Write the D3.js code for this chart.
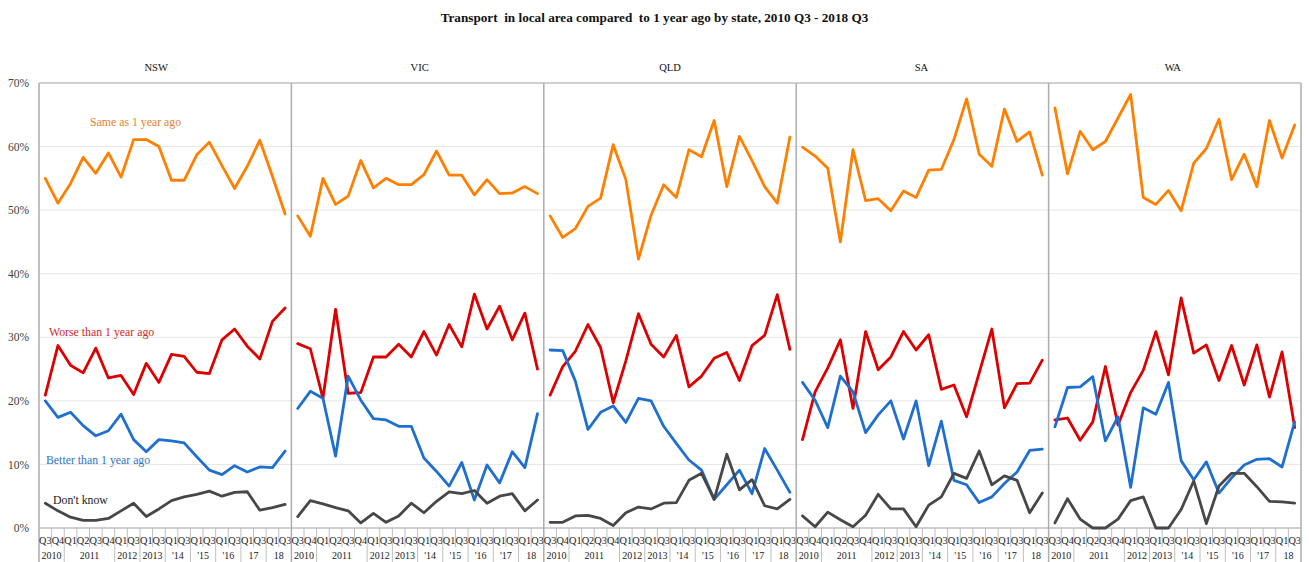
<!DOCTYPE html>
<html><head><meta charset="utf-8">
<script src="https://cdn.jsdelivr.net/npm/d3@7"></script>
<style>
body{margin:0;background:#fff}
svg{display:block}
text{font-family:"Liberation Serif","Times New Roman",serif}
</style>
</head><body>
<svg id="c" width="1309" height="562"></svg>
<script>
const title = "Transport  in local area compared  to 1 year ago by state, 2010 Q3 - 2018 Q3";
const states = ["NSW","VIC","QLD","SA","WA"];
const quarterLabels = ["Q3","Q4","Q1","Q2","Q3","Q4","Q1","Q3","Q1","Q3","Q1","Q3","Q1","Q3","Q1","Q3","Q1","Q3","Q1","Q3"];
const yearSpans = [2,4,2,2,2,2,2,2,2];
const yearLabelsNSW = ["2010","2011","2012","2013","'14","'15","'16","17","18"];
const yearLabelsOther = ["2010","2011","2012","2013","'14","'15","'16","'17","18"];
const yTicks = [0,10,20,30,40,50,60,70];
const seriesNames = ["Same as 1 year ago","Worse than 1 year ago","Better than 1 year ago","Don't know"];

// rows: NSW, VIC, QLD, SA, WA
const sameValues = [
  [55.0,51.1,54.2,58.3,55.8,59.0,55.2,61.1,61.1,60.0,54.7,54.7,58.7,60.7,57.0,53.4,56.9,61.0,55.3,49.4],
  [49.1,45.9,55.0,50.9,52.2,57.8,53.5,55.0,54.0,54.0,55.6,59.3,55.5,55.5,52.4,54.8,52.6,52.7,53.7,52.6],
  [49.1,45.7,47.1,50.6,51.9,60.3,54.8,42.3,49.2,54.0,52.0,59.5,58.4,64.1,53.7,61.6,57.8,53.7,51.1,61.5],
  [59.9,58.5,56.6,45.0,59.5,51.5,51.8,49.9,53.0,52.0,56.3,56.4,61.1,67.5,58.8,56.9,65.9,60.8,62.3,55.5],
  [66.1,55.7,62.4,59.5,60.8,64.5,68.2,52.0,50.9,53.1,49.9,57.4,59.7,64.3,54.8,58.8,53.7,64.1,58.2,63.4]
];
const worseValues = [
  [20.9,28.7,25.6,24.4,28.3,23.6,24.0,21.0,25.9,22.9,27.3,27.0,24.5,24.3,29.6,31.3,28.6,26.6,32.5,34.6],
  [29.0,28.2,20.4,34.4,21.2,21.3,26.9,26.9,28.9,26.9,30.9,27.2,32.0,28.5,36.8,31.3,34.9,29.6,33.8,25.0],
  [20.9,25.4,27.8,32.0,28.4,19.7,26.3,33.7,28.9,26.9,30.3,22.2,23.9,26.7,27.6,23.2,28.7,30.3,36.7,28.1],
  [13.9,21.4,25.2,29.6,18.8,30.9,24.9,26.9,30.9,28.0,30.4,21.8,22.5,17.5,24.4,31.3,18.9,22.7,22.8,26.4],
  [17.0,17.3,13.8,16.7,25.4,16.2,21.3,24.8,30.9,24.1,36.2,27.5,28.8,23.2,28.7,22.5,28.8,20.6,27.7,15.8]
];
const betterValues = [
  [20.0,17.4,18.2,16.1,14.5,15.3,17.9,13.9,12.0,13.9,13.7,13.4,11.2,9.1,8.4,9.8,8.8,9.6,9.5,12.1],
  [18.8,21.5,20.4,11.3,23.9,20.1,17.2,17.0,16.0,16.0,11.0,8.9,6.6,10.3,4.4,9.9,7.1,12.0,9.5,18.0],
  [28.0,27.9,23.1,15.5,18.2,19.2,16.6,20.4,20.0,16.0,13.3,10.7,9.1,4.5,6.8,9.1,5.4,12.5,9.1,5.6],
  [22.9,20.1,15.8,23.9,21.4,15.0,17.8,20.0,14.0,20.0,9.8,16.8,7.5,6.8,4.0,4.9,7.0,8.8,12.2,12.4],
  [15.9,22.1,22.2,23.8,13.7,17.5,6.4,18.9,17.9,22.9,10.6,7.6,10.4,5.5,7.9,9.9,10.8,10.9,9.6,16.7]
];
const dontKnowValues = [
  [3.9,2.7,1.7,1.2,1.2,1.5,2.7,3.9,1.8,3.0,4.3,4.9,5.3,5.8,5.0,5.6,5.7,2.8,3.2,3.7],
  [1.8,4.3,3.8,3.2,2.7,0.8,2.3,0.9,1.9,3.9,2.4,4.2,5.7,5.4,5.9,3.9,5.0,5.4,2.7,4.4],
  [0.9,0.9,1.9,2.0,1.5,0.4,2.4,3.3,3.0,3.9,4.0,7.5,8.6,4.5,11.6,6.0,7.6,3.5,3.0,4.5],
  [1.9,0.2,2.5,1.3,0.2,2.0,5.3,3.0,3.0,0.2,3.6,4.9,8.6,7.8,12.1,6.8,8.2,7.5,2.4,5.5],
  [0.8,4.6,1.4,0.0,0.0,1.4,4.3,4.9,0.0,0.0,2.9,7.4,0.7,6.6,8.6,8.6,6.5,4.2,4.1,3.9]
];

const seriesData = [sameValues, worseValues, betterValues, dontKnowValues];
const lineColors = ["#FF8000","#DD0000","#1F6FD1","#474747"];
const labelColors = ["#E8812A","#CF2A2A","#2E74C8","#1a1a1a"];

const W = 1309, H = 562;
const pLeft = 39, pRight = 1301, pTop = 83, pBottom = 528;
const nPer = quarterLabels.length;
const svg = d3.select("#c");

const x = d3.scaleBand().domain(d3.range(states.length * nPer)).range([pLeft, pRight]).paddingInner(0).paddingOuter(0);
const cx = k => x(k) + x.bandwidth() / 2;
const y = d3.scaleLinear().domain([0, 70]).range([pBottom, pTop]);

// gridlines
svg.append("g").selectAll("line").data(yTicks.filter(t => t > 0 && t < 70)).join("line")
  .attr("x1", pLeft).attr("x2", pRight).attr("y1", d => y(d)).attr("y2", d => y(d))
  .attr("stroke", "#E6E6E6").attr("stroke-width", 1);

// border top and bottom
svg.append("line").attr("x1", pLeft).attr("x2", pRight).attr("y1", y(70)).attr("y2", y(70)).attr("stroke", "#BFBFBF").attr("stroke-width", 1.5);
svg.append("line").attr("x1", pLeft).attr("x2", pRight).attr("y1", y(0)).attr("y2", y(0)).attr("stroke", "#BFBFBF").attr("stroke-width", 1.5);

// y axis labels
const yAxis = svg.append("g").attr("transform", `translate(${pLeft},0)`)
  .call(d3.axisLeft(y).tickValues(yTicks).tickFormat(d => d + "%").tickSize(0).tickPadding(10));
yAxis.select(".domain").remove();
yAxis.selectAll("text").attr("font-size", 11.5).attr("fill", "#404040")
  .style("font-family", '"Liberation Serif","Times New Roman",serif');

// x axis: separators and labels
const axisG = svg.append("g");
states.forEach((st, s) => {
  const base = s * nPer;
  const yb = new Set();
  let acc = 0;
  const ylabels = s === 0 ? yearLabelsNSW : yearLabelsOther;
  yearSpans.forEach((span, i) => {
    const k0 = base + acc;
    const k1 = base + acc + span;
    const xm = (x(k0) + (k1 < states.length * nPer ? x(k1) : pRight)) / 2;
    axisG.append("text").attr("x", xm).attr("y", 559).attr("text-anchor", "middle")
      .attr("font-size", 10).attr("fill", "#222").text(ylabels[i]);
    yb.add(acc);
    acc += span;
  });
  for (let i = 0; i < nPer; i++) {
    const k = base + i;
    const xx = x(k);
    if (i === 0) {
      axisG.append("line").attr("x1", xx).attr("x2", xx).attr("y1", pTop).attr("y2", H)
        .attr("stroke", "#ADADAD").attr("stroke-width", 1.5);
    } else if (yb.has(i)) {
      axisG.append("line").attr("x1", xx).attr("x2", xx).attr("y1", pBottom).attr("y2", H)
        .attr("stroke", "#BFBFBF").attr("stroke-width", 1);
    } else {
      axisG.append("line").attr("x1", xx).attr("x2", xx).attr("y1", pBottom).attr("y2", 547)
        .attr("stroke", "#BFBFBF").attr("stroke-width", 1);
    }
    axisG.append("text").attr("x", cx(k)).attr("y", 544).attr("text-anchor", "middle")
      .attr("font-size", 10.3).attr("fill", "#222").text(quarterLabels[i]);
  }
});
axisG.append("line").attr("x1", pRight).attr("x2", pRight).attr("y1", pTop).attr("y2", H)
  .attr("stroke", "#ADADAD").attr("stroke-width", 1.5);

// lines
const line = d3.line().x(d => cx(d.k)).y(d => y(d.v));
const linesG = svg.append("g");
states.forEach((st, s) => {
  seriesData.forEach((ser, j) => {
    const pts = ser[s].map((v, i) => ({ k: s * nPer + i, v }));
    linesG.append("path").datum(pts).attr("d", line)
      .attr("fill", "none").attr("stroke", lineColors[j]).attr("stroke-width", 2.8)
      .attr("stroke-linejoin", "round").attr("stroke-linecap", "round");
  });
});

// panel titles
const panelDx = [-9, 2, 0, -1, -2];
states.forEach((st, s) => {
  const xm = (x(s * nPer) + (s < states.length - 1 ? x((s + 1) * nPer) : pRight)) / 2;
  svg.append("text").attr("x", xm + panelDx[s]).attr("y", 71).attr("text-anchor", "middle")
    .attr("font-size", 10.5).attr("fill", "#111").text(st);
});

// series labels (NSW panel)
const labelPos = [[90, 126], [49, 336], [46, 464], [53, 504]];
seriesNames.forEach((n, j) => {
  svg.append("text").attr("x", labelPos[j][0]).attr("y", labelPos[j][1])
    .attr("font-size", 11.8).attr("fill", labelColors[j]).text(n);
});

// title
svg.append("text").attr("x", W / 2).attr("y", 22).attr("text-anchor", "middle")
  .attr("font-size", 13.2).attr("font-weight", "bold").attr("fill", "#111")
  .style("white-space", "pre").text(title);
</script>
</body></html>
